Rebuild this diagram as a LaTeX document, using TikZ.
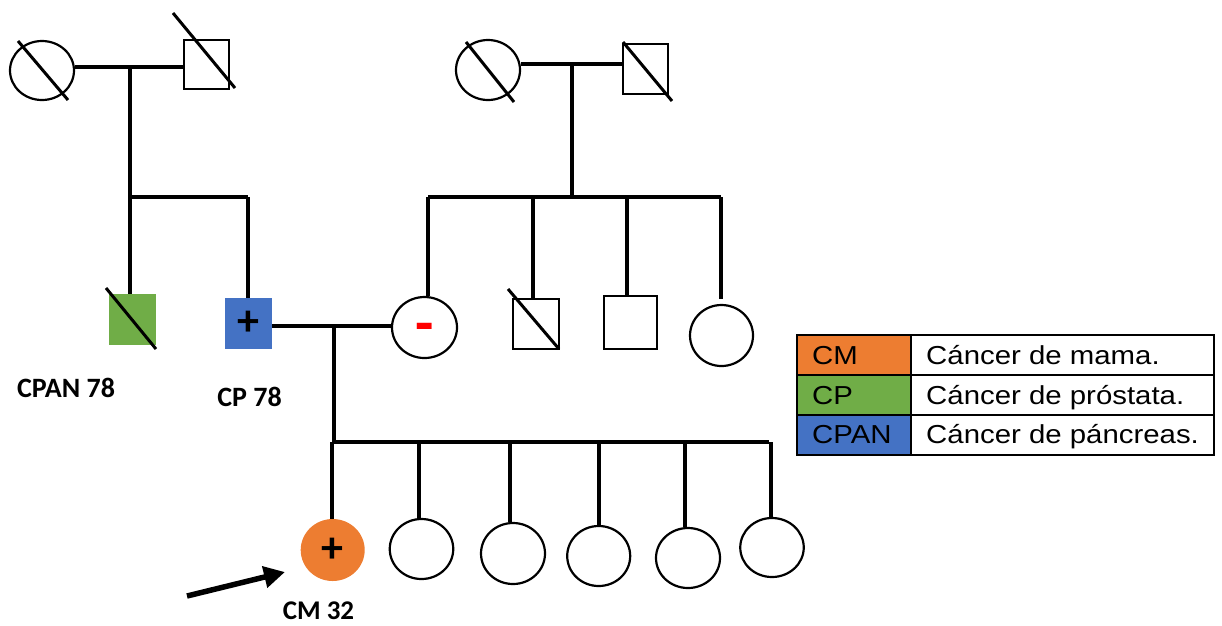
\documentclass[tikz,border=0pt]{standalone}
\usepackage{fontspec}
\setmainfont{Carlito}
\newfontfamily\legfont[FakeStretch=1.13]{Liberation Sans}
\usetikzlibrary{shapes.geometric,arrows.meta,calc}
\definecolor{cmorange}{HTML}{ED7D31}
\definecolor{cpgreen}{HTML}{70AD47}
\definecolor{cpanblue}{HTML}{4472C4}
\begin{document}
\begin{tikzpicture}[x=1pt,y=-1pt,
  link/.style={line width=3.5pt},
  female/.style={ellipse, draw, line width=2.2pt, inner sep=0pt},
  male/.style={rectangle, draw, line width=2pt, inner sep=0pt},
  deceased/.style={line width=3pt},
  lbl/.style={font=\fontsize{28}{32}\selectfont\bfseries, anchor=base, inner sep=0pt},
  signtxt/.style={font=\fontsize{44}{44}\selectfont\bfseries},
  legcell/.style={rectangle, draw, line width=2pt, inner sep=0pt, minimum height=40pt},
  legtxt/.style={font=\legfont\fontsize{26}{30}\selectfont, anchor=base west, inner sep=0pt}
]
\useasboundingbox (0,0) rectangle (1222,625);

% ---------- top-left couple ----------
\node[female, minimum width=64pt, minimum height=59pt] (gm1) at (42,70.5) {};
\draw[deceased] (18,41) -- (68,100);
\node[male, minimum width=45pt, minimum height=49pt] (gf1) at (206.5,64.5) {};
\draw[deceased] (173,13) -- (235,88);
\coordinate (m1) at (130,67);
\coordinate (s1l) at (130,197);
\coordinate (s1r) at (248,197);
\draw[link] (gm1.east |- m1) -- (gf1.west |- m1);
\draw[link] (m1) -- (s1l) -- (s1r);

\node[rectangle, fill=cpgreen, minimum width=47pt, minimum height=51pt, inner sep=0pt] (u1) at (132.5,319.5) {};
\draw[link] (s1l) -- (s1l |- u1.north);
\draw[deceased] (106,288) -- (156,349);
\node[rectangle, fill=cpanblue, minimum width=47pt, minimum height=51pt, inner sep=0pt, signtxt] (u2) at (248.5,323.5) {+};
\draw[link] (s1r) -- (s1r |- u2.north);

% ---------- top-right couple ----------
\node[female, minimum width=64pt, minimum height=60pt] (gm2) at (488,70) {};
\draw[deceased] (466,42) -- (514,102);
\node[male, minimum width=45pt, minimum height=50pt] (gf2) at (645.5,69) {};
\draw[deceased] (623,42) -- (672,101);
\coordinate (m3) at (572,64);
\draw[link] (gm2.east |- m3) -- (gf2.west |- m3);
\coordinate (s2l) at (428,197);
\coordinate (s2m) at (572,197);
\coordinate (s2b) at (533,197);
\coordinate (s2c) at (627,197);
\coordinate (s2r) at (721,197);
\draw[link] (m3) -- (s2m);
\draw[link] (s2l) -- (s2r);

\node[female, minimum width=65pt, minimum height=61pt, font=\fontsize{60}{60}\selectfont\bfseries, text=red] (a1) at (424.5,327.5) {\raisebox{-16pt}[0pt][0pt]{-}};
\draw[link] (s2l) -- (s2l |- a1.north);
\node[male, minimum width=46pt, minimum height=50pt] (b1) at (536,324) {};
\draw[link] (s2b) -- (s2b |- b1.north);
\draw[deceased] (508,289) -- (559,349);
\node[male, minimum width=53pt, minimum height=53pt] (b2) at (630.5,322.5) {};
\draw[link] (s2c) -- (s2c |- b2.north);
\node[female, minimum width=63pt, minimum height=61pt] (b3) at (721.5,335.5) {};
\draw[link] (s2r) -- ($(s2r |- b3.north)+(0,-5)$);

% ---------- marriage and children ----------
\coordinate (m2) at (334,326);
\draw[link] (u2.east |- m2) -- (a1.west |- m2);
\coordinate (s3l) at (332,442);
\coordinate (s3r) at (769,442);
\draw[link] (m2) -- (m2 |- s3l);
\draw[link] (s3l) -- (s3r);

\node[ellipse, fill=cmorange, inner sep=0pt, minimum width=64pt, minimum height=62pt, signtxt] (c1) at (332.7,550) {+};
\node[female, minimum width=63.5pt, minimum height=60pt] (c2) at (421.5,549) {};
\node[female, minimum width=64pt, minimum height=61pt] (c3) at (513,553.5) {};
\node[female, minimum width=63pt, minimum height=60pt] (c4) at (598.7,556) {};
\node[female, minimum width=64pt, minimum height=60pt] (c5) at (688,558) {};
\node[female, minimum width=63.5pt, minimum height=59pt] (c6) at (772,547.5) {};
\coordinate (t2) at (419,442);
\coordinate (t3) at (510,442);
\coordinate (t4) at (599,442);
\coordinate (t5) at (685,442);
\coordinate (t6) at (771,442);
\draw[link] (s3l) -- (s3l |- c1.north);
\draw[link] (t2) -- (t2 |- c2.north);
\draw[link] (t3) -- (t3 |- c3.north);
\draw[link] (t4) -- (t4 |- c4.north);
\draw[link] (t5) -- (t5 |- c5.north);
\draw[link] (t6) -- (t6 |- c6.north);

% ---------- proband arrow ----------
\coordinate (arrtail) at (187,596);
\coordinate (arrhead) at (285,572);
\draw[line width=5.5pt, -{Triangle[length=21pt,width=21pt]}] (arrtail) -- (arrhead);

% ---------- labels ----------
\node[lbl] (lcpan) at (66,397) {CPAN 78};
\node[lbl] (lcp) at (249.5,406) {CP 78};
\node[lbl, font=\fontsize{27}{30}\selectfont\bfseries] (lcm) at (318.5,619) {CM 32};

% ---------- legend ----------
\node[legcell, fill=cmorange, minimum width=113.7pt] (k1) at (853.85,355) {};
\node[legcell, minimum width=303.3pt] (d1) at (1062.35,355) {};
\node[legcell, fill=cpgreen, minimum width=113.7pt] (k2) at (853.85,395) {};
\node[legcell, minimum width=303.3pt] (d2) at (1062.35,395) {};
\node[legcell, fill=cpanblue, minimum width=113.7pt] (k3) at (853.85,435) {};
\node[legcell, minimum width=303.3pt] (d3) at (1062.35,435) {};
\node[legtxt] (tk1) at (812,364) {CM};
\node[legtxt] (tk2) at (812,404) {CP};
\node[legtxt] (tk3) at (812,443) {CPAN};
\node[legtxt] (td1) at (926,364) {Cáncer de mama.};
\node[legtxt] (td2) at (926,404) {Cáncer de próstata.};
\node[legtxt] (td3) at (926,443) {Cáncer de páncreas.};
\end{tikzpicture}
\end{document}
